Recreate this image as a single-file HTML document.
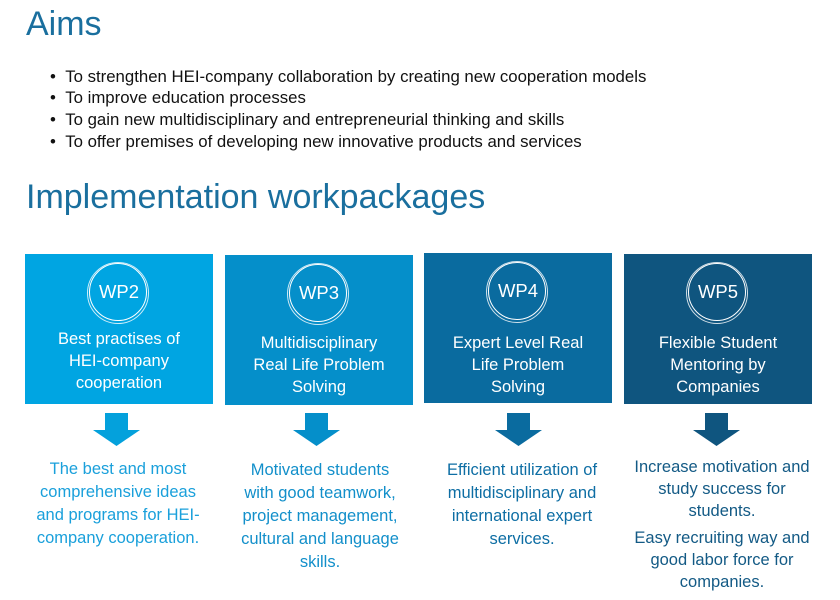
<!DOCTYPE html>
<html><head><meta charset="utf-8"><style>
body{margin:0;width:840px;height:600px;background:#fff;position:relative;overflow:hidden;font-family:"Liberation Sans",sans-serif}
.t{position:absolute;color:#1a6f9e;font-size:34px;white-space:nowrap}
.b{position:absolute;left:50px;font-size:16.8px;color:#111;white-space:nowrap}
.box{position:absolute;width:188px;height:150px;color:#fff;text-align:center}
.box .c{position:absolute;left:64px;top:9px;width:58px;height:58px;border:1.5px solid #fff;border-radius:50%;box-sizing:border-box}
.box .c2{position:absolute;left:62px;top:8px;width:62px;height:62px;border:1px solid rgba(255,255,255,.8);border-radius:50%;box-sizing:border-box}
.box .w{position:absolute;left:0;right:0;top:27px;font-size:18.5px}
.box .l{position:absolute;left:-5px;right:-5px;top:74px;font-size:16.5px;line-height:22px}
.o{position:absolute;width:220px;text-align:center;font-size:16.5px;line-height:23px}
</style></head><body>
<div class="t" style="left:26px;top:5px">Aims</div>
<div class="b" style="top:67px">•&nbsp;&nbsp;To strengthen HEI-company collaboration by creating new cooperation models</div>
<div class="b" style="top:88px">•&nbsp;&nbsp;To improve education processes</div>
<div class="b" style="top:110px">•&nbsp;&nbsp;To gain new multidisciplinary and entrepreneurial thinking and skills</div>
<div class="b" style="top:132px">•&nbsp;&nbsp;To offer premises of developing new innovative products and services</div>
<div class="t" style="left:26px;top:178px">Implementation workpackages</div>

<div class="box" style="left:25px;top:254px;background:#00a5e2"><div class="c2"></div><div class="c"></div><div class="w">WP2</div><div class="l">Best practises of<br>HEI-company<br>cooperation</div></div>
<div class="box" style="left:225px;top:255px;background:#058fca"><div class="c2"></div><div class="c"></div><div class="w">WP3</div><div class="l" style="top:77px">Multidisciplinary<br>Real Life Problem<br>Solving</div></div>
<div class="box" style="left:424px;top:253px;background:#0a6b9f"><div class="c2"></div><div class="c"></div><div class="w">WP4</div><div class="l" style="top:79px">Expert Level Real<br>Life Problem<br>Solving</div></div>
<div class="box" style="left:624px;top:254px;background:#0f557f"><div class="c2"></div><div class="c"></div><div class="w">WP5</div><div class="l" style="top:78px">Flexible Student<br>Mentoring by<br>Companies</div></div>

<svg style="position:absolute;left:0;top:0" width="840" height="600">
<polygon points="105,413 128,413 128,430 140,430 116.5,446 93,430 105,430" fill="#04a1dc"/>
<polygon points="305,413 328,413 328,430 340,430 316.5,446 293,430 305,430" fill="#058fca"/>
<polygon points="507,413 530,413 530,430 542,430 518.5,446 495,430 507,430" fill="#0a6b9f"/>
<polygon points="705,413 728,413 728,430 740,430 716.5,446 693,430 705,430" fill="#0f557f"/>
</svg>

<div class="o" style="left:8px;top:458px;color:#1aa0db">The best and most<br>comprehensive ideas<br>and programs for HEI-<br>company cooperation.</div>
<div class="o" style="left:210px;top:459px;color:#128fca">Motivated students<br>with good teamwork,<br>project management,<br>cultural and language<br>skills.</div>
<div class="o" style="left:412px;top:459px;color:#0e6ea4">Efficient utilization of<br>multidisciplinary and<br>international expert<br>services.</div>
<div class="o" style="left:612px;top:456px;color:#135a85;line-height:22px">Increase motivation and<br>study success for<br>students.<div style="height:5px"></div>Easy recruiting way and<br>good labor force for<br>companies.</div>
</body></html>
